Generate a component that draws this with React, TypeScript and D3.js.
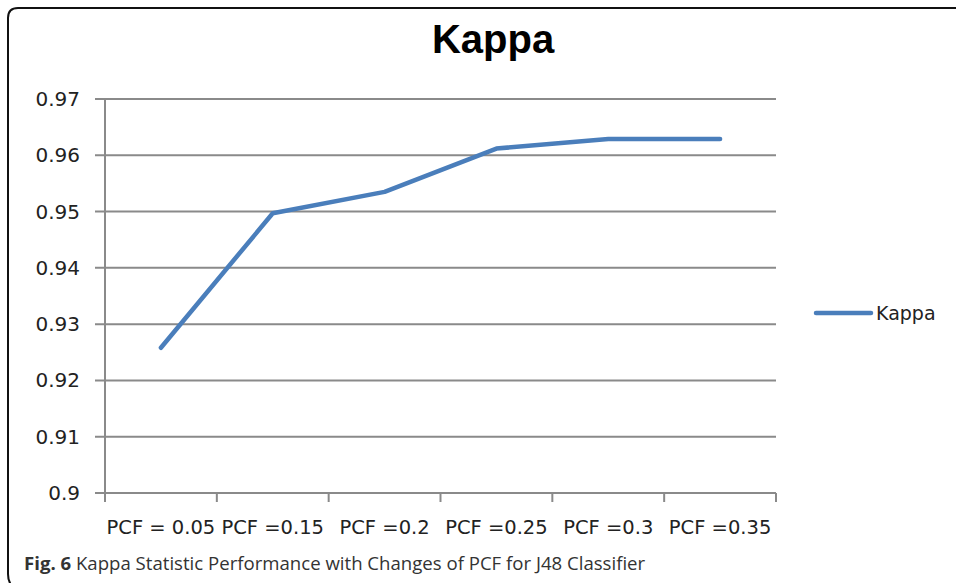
import React from "react";
import * as d3 from "d3";

const categories = ["PCF = 0.05", "PCF =0.15", "PCF =0.2", "PCF =0.25", "PCF =0.3", "PCF =0.35"];
const kappaValues = [0.9258, 0.9497, 0.9535, 0.9612, 0.9629, 0.9629];
const yTicks = [0.9, 0.91, 0.92, 0.93, 0.94, 0.95, 0.96, 0.97];
const seriesName = "Kappa";
const titleText = "Kappa";
const captionBold = "Fig. 6";
const captionRest = " Kappa Statistic Performance with Changes of PCF for J48 Classifier";

export default function App() {
  const W = 956, H = 583;
  const left = 105, right = 776, top = 99, bottom = 493;
  const x = d3.scaleBand<string>().domain(categories).range([left, right]).padding(0);
  const y = d3.scaleLinear().domain([0.9, 0.97]).range([bottom, top]);
  const line = d3
    .line<number>()
    .x((_, i) => (x(categories[i]) as number) + x.bandwidth() / 2)
    .y((d) => y(d));
  const gridColor = "#8a8a8a";
  const font = "'DejaVu Sans', Verdana, sans-serif";
  const xTickPos = [...categories.map((c) => x(c) as number), right];

  return (
    <svg width={W} height={H} style={{ position: "absolute", left: 0, top: 0, background: "#fff" }}>
      <rect x={0} y={0} width={W} height={H} fill="#fff" />
      <path d={`M ${W + 5} 8 L 18 8 Q 8 8 8 18 L 8 574 Q 8 583 14 588`} fill="none" stroke="#111" strokeWidth={2} />
      <text x={493} y={53} textAnchor="middle" fontFamily="'Liberation Sans', Arial, sans-serif" fontWeight="bold" fontSize={40} fill="#000">
        {titleText}
      </text>
      {yTicks.map((t) => (
        <g key={t}>
          <line x1={left - 10} x2={right} y1={y(t)} y2={y(t)} stroke={gridColor} strokeWidth={2} />
          <text x={80} y={y(t) + 7} textAnchor="end" fontFamily={font} fontSize={20} fill="#222">
            {d3.format("")(t)}
          </text>
        </g>
      ))}
      <line x1={left} x2={left} y1={top} y2={bottom} stroke={gridColor} strokeWidth={2} />
      {xTickPos.map((p, i) => (
        <line key={i} x1={p} x2={p} y1={bottom} y2={bottom + 9} stroke={gridColor} strokeWidth={2} />
      ))}
      {categories.map((c) => (
        <text key={c} x={(x(c) as number) + x.bandwidth() / 2} y={534} textAnchor="middle" fontFamily={font} fontSize={19.5} fill="#222">
          {c}
        </text>
      ))}
      <path d={line(kappaValues) || ""} fill="none" stroke="#4a7ebb" strokeWidth={4.5} strokeLinejoin="round" strokeLinecap="round" />
      <line x1={816} x2={871} y1={313} y2={313} stroke="#4a7ebb" strokeWidth={4.5} strokeLinecap="round" />
      <text x={876} y={320} fontFamily={font} fontSize={19} fill="#222">
        {seriesName}
      </text>
      <text x={24} y={570} fontFamily="'Open Sans', sans-serif" fontSize={18.6} fill="#333">
        <tspan fontWeight="bold">{captionBold}</tspan>
        <tspan>{captionRest}</tspan>
      </text>
    </svg>
  );
}
